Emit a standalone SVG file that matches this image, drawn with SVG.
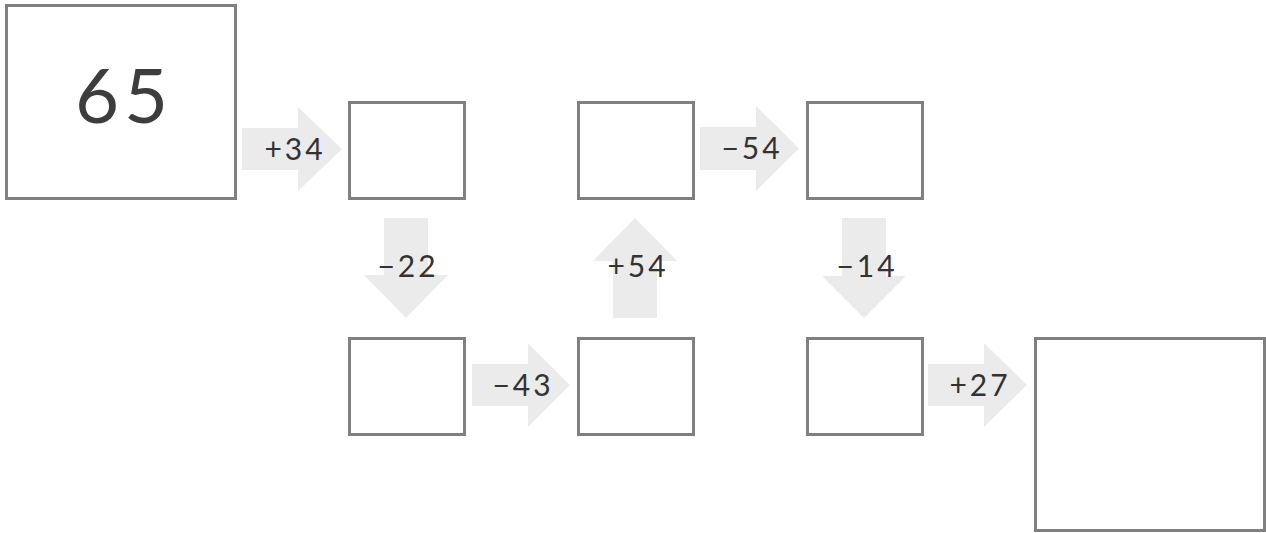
<svg xmlns="http://www.w3.org/2000/svg" width="1266" height="533" viewBox="0 0 1266 533">
<style>
.box{fill:#fff;stroke:#808080;stroke-width:3}
.arr{fill:#ebebeb}
.lbl{font-family:Lato,"Liberation Sans",sans-serif;font-size:30px;fill:#333;text-anchor:middle;letter-spacing:3px}
.big{font-family:Lato,"Liberation Sans",sans-serif;font-size:76px;fill:#3d3d3d;text-anchor:middle;letter-spacing:5px}
</style>
<rect width="1266" height="533" fill="#fff"/>
<g id="connectors">
  <g id="c1"><polygon class="arr" points="242,128 298,128 298,107 342,149 298,191 298,170 242,170"/><text class="lbl" x="295" y="160">+34</text></g>
  <g id="c2"><polygon class="arr" points="384,218 428,218 428,275 448,275 406,318 364,275 384,275"/><text class="lbl" x="408" y="277">−22</text></g>
  <g id="c3"><polygon class="arr" points="472,364 528,364 528,343 570,385 528,427 528,406 472,406"/><text class="lbl" x="523" y="396">−43</text></g>
  <g id="c4"><polygon class="arr" points="613,318 657,318 657,261 677,261 635,218 593,261 613,261"/><text class="lbl" x="638" y="277">+54</text></g>
  <g id="c5"><polygon class="arr" points="700,127 756,127 756,106 799,148.5 756,191 756,170 700,170"/><text class="lbl" x="752" y="159">−54</text></g>
  <g id="c6"><polygon class="arr" points="842,218 886,218 886,276 906,276 864,318 822,276 842,276"/><text class="lbl" x="867" y="277">−14</text></g>
  <g id="c7"><polygon class="arr" points="928,364 984,364 984,343 1027,385 984,427 984,406 928,406"/><text class="lbl" x="980" y="396">+27</text></g>
</g>
<g id="n0"><rect class="box" x="6.5" y="5.5" width="229" height="193"/><text class="big" x="124" y="123">65</text></g>
<g id="n1"><rect class="box" x="349.5" y="102.5" width="115" height="96"/></g>
<g id="n2"><rect class="box" x="349.5" y="338.5" width="115" height="96"/></g>
<g id="n3"><rect class="box" x="578.5" y="338.5" width="115" height="96"/></g>
<g id="n4"><rect class="box" x="578.5" y="102.5" width="115" height="96"/></g>
<g id="n5"><rect class="box" x="807.5" y="102.5" width="115" height="96"/></g>
<g id="n6"><rect class="box" x="807.5" y="338.5" width="115" height="96"/></g>
<g id="n7"><rect class="box" x="1035.5" y="338.5" width="229" height="192"/></g>
</svg>
